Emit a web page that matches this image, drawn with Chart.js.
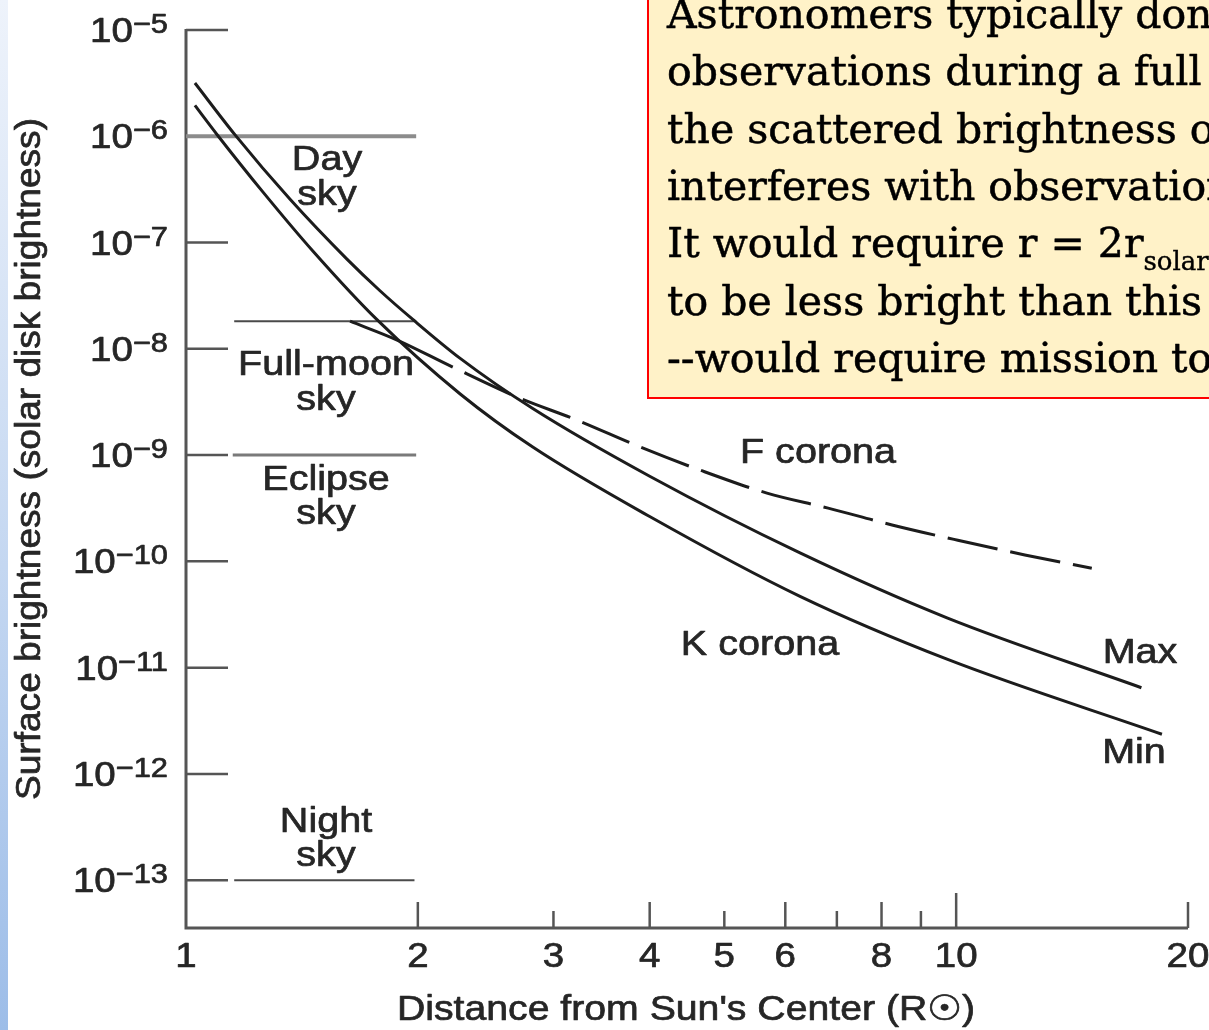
<!DOCTYPE html>
<html>
<head>
<meta charset="utf-8">
<script src="https://cdn.jsdelivr.net/npm/chart.js@4/dist/chart.umd.min.js"></script>
<style>
  html, body { margin: 0; padding: 0; background: #fff; overflow: hidden; }
  #wrap { position: relative; width: 1209px; height: 1030px; }
  #c { position: absolute; left: 0; top: 0; }
  #strip { position: absolute; left: 0; top: 0; width: 8px; height: 1030px;
           background: linear-gradient(#eef3fb, #c4d7f1 55%, #9dbde8); }
</style>
</head>
<body>
<div id="wrap">
  <canvas id="c" width="1209" height="1030"></canvas>
  <div id="strip"></div>
</div>
<script>
// K corona, solar maximum: distance (R_sun) and surface brightness (solar disk units)
const kMaxR = [1.027, 1.158, 1.365, 1.618, 1.786, 1.97, 2.27, 2.82, 4.0, 6.27, 9.73, 17.4];
const kMaxB = [3.17e-6, 1.03e-6, 2.55e-7, 6.98e-8, 3.52e-8, 1.89e-8, 8.13e-9, 2.74e-9, 6.32e-10, 1.2e-10, 2.94e-11, 6.47e-12];

// K corona, solar minimum
const kMinR = [1.027, 1.097, 1.259, 1.462, 1.77, 2.27, 2.82, 4.0, 6.27, 9.73, 18.5];
const kMinB = [1.95e-6, 1.04e-6, 2.98e-7, 8.28e-8, 1.88e-8, 3.76e-9, 1.19e-9, 2.64e-10, 4.68e-11, 1.2e-11, 2.36e-12];

// F corona (dust-scattered light)
const fCorR = [1.633, 1.88, 2.22, 2.69, 3.22, 3.89, 4.65, 5.68, 6.82, 8.28, 10.05, 12.28, 15.0];
const fCorB = [1.82e-8, 1.21e-8, 6.73e-9, 3.52e-9, 2.13e-9, 1.19e-9, 7.22e-10, 4.39e-10, 3.17e-10, 2.19e-10, 1.58e-10, 1.15e-10, 8.63e-11];

// Sky background levels
const skyNames = [["Day", "sky"], ["Full-moon", "sky"], ["Eclipse", "sky"], ["Night", "sky"]];
const skyLevel = [1e-6, 1.82e-8, 1e-9, 1e-13];
const skyFrom  = [1.0, 1.155, 1.15, 1.155];
const skyTo    = [1.99, 1.99, 1.99, 1.98];

// Axis ticks
const xTickValues = [2, 3, 4, 5, 6, 7, 8, 9, 10, 20];
const xTickLabels = ["1", "2", "3", "4", "5", "6", "8", "10", "20"];
const yDecades    = [-5, -6, -7, -8, -9, -10, -11, -12, -13];

const xTitle = "Distance from Sun's Center (R\u2609)";
const yTitle = "Surface brightness (solar disk brightness)";

const noteLines = [
  "Astronomers typically don't",
  "observations during a full",
  "the scattered brightness of",
  "interferes with observations",
  "It would require r = 2r",
  "to be less bright than this",
  "--would require mission to"
];
const noteSub = "solar";

const SANS = '"Liberation Sans", Arial, Helvetica, sans-serif';
const SERIF = '"DejaVu Serif", Georgia, serif';
const SX = 1.13; // the sans labels are slightly wide
const INK = '#262626';

function pts(xs, ys) { return xs.map((x, i) => ({ x: x, y: ys[i] })); }

// text with horizontal stretch and a thin outline for a heavier stroke
function stretchText(ctx, txt, x, y, size, sx, align, family, weight) {
  ctx.save();
  ctx.font = size + 'px ' + (family || SANS);
  const w = ctx.measureText(txt).width * sx;
  const left = align === 'center' ? x - w / 2 : (align === 'right' ? x - w : x);
  ctx.translate(left, y);
  ctx.scale(sx, 1);
  ctx.textAlign = 'left';
  ctx.textBaseline = 'alphabetic';
  ctx.fillText(txt, 0, 0);
  const lw = weight === undefined ? 0.7 : weight;
  if (lw > 0) {
    ctx.strokeStyle = ctx.fillStyle;
    ctx.lineWidth = lw;
    ctx.lineJoin = 'round';
    ctx.strokeText(txt, 0, 0);
  }
  ctx.restore();
  return w;
}

const skyStyles = [
  { color: '#8c8c8c', width: 4 },
  { color: '#4a4a4a', width: 2 },
  { color: '#7a7a7a', width: 3 },
  { color: '#4a4a4a', width: 2 }
];

const datasets = [
  { label: 'K corona Max', data: pts(kMaxR, kMaxB), borderColor: '#1c1c1c', borderWidth: 3,
    pointRadius: 0, cubicInterpolationMode: 'monotone' },
  { label: 'K corona Min', data: pts(kMinR, kMinB), borderColor: '#1c1c1c', borderWidth: 3,
    pointRadius: 0, cubicInterpolationMode: 'monotone' },
  { label: 'F corona', data: pts(fCorR, fCorB), borderColor: '#1c1c1c', borderWidth: 3,
    pointRadius: 0, cubicInterpolationMode: 'monotone',
    segment: {
      borderDash: ctx => ctx.p0DataIndex < 2 ? [] : [51, 13],
      borderDashOffset: ctx => ctx.p0DataIndex < 2 ? 0 : 51
    } }
];
skyLevel.forEach((lvl, i) => {
  datasets.push({
    label: skyNames[i].join(' '),
    data: [{ x: skyFrom[i], y: lvl }, { x: skyTo[i], y: lvl }],
    borderColor: skyStyles[i].color, borderWidth: skyStyles[i].width,
    pointRadius: 0, tension: 0, borderCapStyle: 'butt'
  });
});

const frame = {
  id: 'frame',
  beforeDatasetsDraw(chart) {
    const { ctx, chartArea: a, scales: { x, y } } = chart;
    ctx.save();
    ctx.strokeStyle = '#555';
    ctx.lineCap = 'butt';
    // axes
    ctx.lineWidth = 3;
    ctx.beginPath();
    ctx.moveTo(a.left, a.top - 1);
    ctx.lineTo(a.left, a.bottom + 1.5);
    ctx.moveTo(a.left - 1.5, a.bottom);
    ctx.lineTo(a.right, a.bottom);
    ctx.stroke();
    // y decade ticks, pointing inward
    ctx.lineWidth = 2.5;
    yDecades.forEach(e => {
      const py = y.getPixelForValue(Math.pow(10, e));
      ctx.beginPath();
      ctx.moveTo(a.left, py);
      ctx.lineTo(a.left + 42, py);
      ctx.stroke();
    });
    // x ticks, pointing inward
    xTickValues.forEach(v => {
      const px = x.getPixelForValue(v);
      const len = v === 10 ? 35 : (v % 2 === 0 ? 26 : 17);
      ctx.beginPath();
      ctx.moveTo(px, a.bottom);
      ctx.lineTo(px, a.bottom - len);
      ctx.stroke();
    });
    ctx.restore();
  },
  afterDraw(chart) {
    const { ctx, chartArea: a, scales: { x, y } } = chart;
    ctx.save();
    ctx.fillStyle = INK;

    // y tick labels: 10 with a raised exponent
    yDecades.forEach(e => {
      const py = y.getPixelForValue(Math.pow(10, e));
      ctx.font = '28px ' + SANS;
      const expTxt = '\u2212' + String(-e);
      const we = ctx.measureText(expTxt).width * 1.1;
      ctx.font = '35px ' + SANS;
      const wb = ctx.measureText('10').width * 1.1;
      const right = 168;
      stretchText(ctx, '10', right - we - wb, py + 12, 35, 1.1, 'left');
      stretchText(ctx, expTxt, right - we, py + 3, 28, 1.1, 'left');
    });

    // x tick labels
    xTickLabels.forEach(t => {
      const px = x.getPixelForValue(Number(t));
      stretchText(ctx, t, px, a.bottom + 39, 35, 1.1, 'center');
    });

    // axis titles
    ctx.font = '35px ' + SANS;
    const xw = ctx.measureText(xTitle).width;
    stretchText(ctx, xTitle, 686, 1020, 35, 578 / xw, 'center');

    ctx.font = '35px ' + SANS;
    const yw = ctx.measureText(yTitle).width;
    ctx.save();
    ctx.translate(40, 459);
    ctx.rotate(-Math.PI / 2);
    stretchText(ctx, yTitle, 0, 0, 35, 682 / yw, 'center');
    ctx.restore();

    // sky band labels
    const bandPos = [[327, 170, 205], [326, 375, 410], [326, 490, 524], [326, 832, 866]];
    skyNames.forEach((n, i) => {
      stretchText(ctx, n[0], bandPos[i][0], bandPos[i][1], 35, SX, 'center');
      stretchText(ctx, n[1], bandPos[i][0], bandPos[i][2], 35, SX, 'center');
    });

    // curve labels
    stretchText(ctx, 'F corona', 818, 463, 35, SX, 'center');
    stretchText(ctx, 'K corona', 760, 655, 35, SX, 'center');
    stretchText(ctx, 'Max', 1140, 663, 35, SX, 'center');
    stretchText(ctx, 'Min', 1134, 763, 35, SX, 'center');

    // note box
    ctx.fillStyle = '#fff2c8';
    ctx.fillRect(648, -10, 600, 408);
    ctx.strokeStyle = '#f00';
    ctx.lineWidth = 2;
    ctx.beginPath();
    ctx.moveTo(648, -10);
    ctx.lineTo(648, 398);
    ctx.lineTo(1260, 398);
    ctx.stroke();

    ctx.fillStyle = '#000';
    noteLines.forEach((ln, i) => {
      const by = 28 + i * 57.3;
      const w = stretchText(ctx, ln, 667, by, 41, 1, 'left', SERIF, 0.5);
      if (i === 4) {
        stretchText(ctx, noteSub, 667 + w, by + 13, 26, 1, 'left', SERIF, 0.4);
      }
    });
    ctx.restore();
  }
};

new Chart(document.getElementById('c'), {
  type: 'line',
  data: { datasets: datasets },
  options: {
    responsive: false,
    animation: false,
    devicePixelRatio: 1,
    layout: { padding: { left: 186, right: 21, top: 30, bottom: 102 } },
    plugins: { legend: { display: false }, tooltip: { enabled: false } },
    scales: {
      x: { type: 'logarithmic', min: 1, max: 20, display: false },
      y: { type: 'logarithmic', min: Math.pow(10, -13.45), max: 1e-5, display: false }
    }
  },
  plugins: [frame]
});
</script>
</body>
</html>
